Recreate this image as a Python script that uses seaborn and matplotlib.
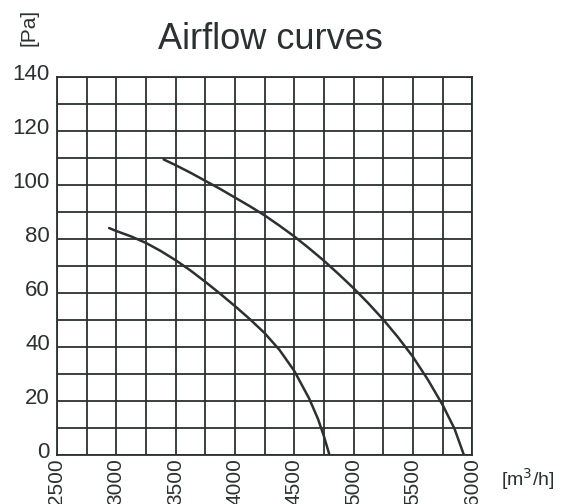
import pandas as pd
import seaborn as sns
import matplotlib.pyplot as plt
import matplotlib.transforms as mtransforms

# Curve readings (flow in m3/h, pressure in Pa)
upper_flow = [3400, 3500, 3625, 3750, 3875, 4000, 4125, 4250, 4375, 4500, 4625,
              4750, 4875, 5000, 5125, 5250, 5375, 5500, 5625, 5750, 5850, 5930]
upper_pa = [109.5, 107.4, 104.6, 101.6, 98.6, 95.4, 92.2, 88.8, 85.0, 81.0, 76.6,
            72.0, 67.0, 61.8, 56.2, 50.2, 43.6, 36.4, 28.0, 18.6, 9.8, 0.0]

lower_flow = [2940, 3000, 3125, 3250, 3375, 3500, 3625, 3750, 3875, 4000, 4125,
              4250, 4375, 4500, 4625, 4700, 4750, 4797]
lower_pa = [84.1, 83.0, 81.0, 78.6, 75.6, 72.2, 68.4, 64.2, 59.8, 55.2, 50.4,
            45.2, 39.0, 31.2, 21.0, 13.4, 7.0, 0.0]

x_ticks = list(range(2500, 6001, 250))
x_labels = [str(v) if v % 500 == 0 else '' for v in x_ticks]
y_ticks = list(range(0, 141, 10))
y_labels = [str(v) if v % 20 == 0 else '' for v in y_ticks]

sns.set_style('white')
plt.rcParams['font.family'] = ['Liberation Sans', 'DejaVu Sans']

ink = '#2b3030'

fig = plt.figure(figsize=(5.69, 5.04), dpi=100)
ax = fig.add_axes([0.100, 0.097, 0.730, 0.750])

upper = pd.DataFrame({'flow': upper_flow, 'pa': upper_pa})
lower = pd.DataFrame({'flow': lower_flow, 'pa': lower_pa})
sns.lineplot(data=upper, x='flow', y='pa', color=ink, linewidth=1.8, ax=ax, sort=False)
sns.lineplot(data=lower, x='flow', y='pa', color=ink, linewidth=1.8, ax=ax, sort=False)

ax.set_xlim(2500, 6000)
ax.set_ylim(0, 140)
ax.set_xticks(x_ticks)
ax.set_xticklabels(x_labels, rotation=90, fontsize=15, color=ink)
ax.set_yticks(y_ticks)
ax.set_yticklabels(y_labels, fontsize=16, color=ink)
ax.tick_params(axis='both', length=0)
ax.tick_params(axis='x', pad=2)
ax.tick_params(axis='y', pad=5)
ax.grid(True, color=ink, linewidth=1.3)
ax.set_axisbelow(True)
for s in ax.spines.values():
    s.set_color(ink)
    s.set_linewidth(1.3)
ax.set_xlabel('')
ax.set_ylabel('')

# y labels sit a little above their grid lines
shift = mtransforms.ScaledTranslation(0, 4 / 72, fig.dpi_scale_trans)
for lab in ax.get_yticklabels():
    lab.set_transform(lab.get_transform() + shift)

fig.text(0.476, 0.922, 'Airflow curves', fontsize=26, color=ink, ha='center', va='center')
fig.text(0.051, 0.946, '[Pa]', fontsize=15, color=ink, rotation=90, ha='center', va='center')
fig.text(0.928, 0.050, '[m$^3$/h]', fontsize=14, color=ink, ha='center', va='center')

plt.savefig('out.png', dpi=100)
